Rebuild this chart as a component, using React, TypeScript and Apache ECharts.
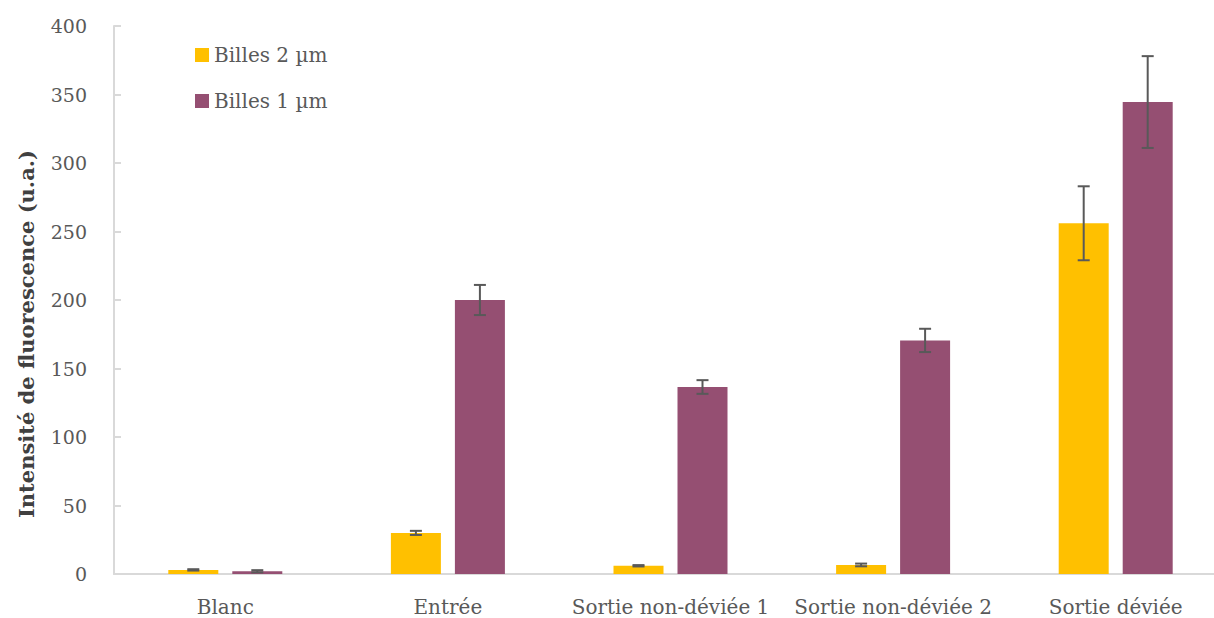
import React, { useEffect, useRef } from "react";
import * as echarts from "echarts";

const categories = ["Blanc", "Entrée", "Sortie non-déviée 1", "Sortie non-déviée 2", "Sortie déviée"];
const seriesNames = ["Billes 2 µm", "Billes 1 µm"];
const values2um = [3, 30, 6, 6.6, 256];
const errors2um = [0.5, 1.5, 0.5, 1, 27];
const values1um = [2, 200, 136.5, 170.5, 344.5];
const errors1um = [0.8, 11, 5, 8.5, 33.5];
const colors = ["#FFC000", "#954F72"];
const yTicks = { min: 0, max: 400, interval: 50 };
const yTitle = "Intensité de fluorescence (u.a.)";

function errorSeries(values: number[], errors: number[], idx: number) {
  const data = values.map((v, i) => [i, v - errors[i], v + errors[i]]);
  return {
    type: "custom",
    name: seriesNames[idx] + " err",
    z: 10,
    renderItem: (params: any, api: any) => {
      const xi = api.value(0);
      const lo = api.coord([xi, api.value(1)]);
      const hi = api.coord([xi, api.value(2)]);
      const barW = 50;
      const gap = 14;
      const offset = idx === 0 ? -(barW + gap) / 2 : (barW + gap) / 2;
      const x = lo[0] + offset;
      const cap = 6;
      const style = { stroke: "#595959", lineWidth: 2 };
      return {
        type: "group",
        children: [
          { type: "line", shape: { x1: x, y1: lo[1], x2: x, y2: hi[1] }, style },
          { type: "line", shape: { x1: x - cap, y1: lo[1], x2: x + cap, y2: lo[1] }, style },
          { type: "line", shape: { x1: x - cap, y1: hi[1], x2: x + cap, y2: hi[1] }, style },
        ],
      };
    },
    data,
    silent: true,
  };
}

export default function App() {
  const ref = useRef<HTMLDivElement>(null);
  useEffect(() => {
    const chart = echarts.init(ref.current!, undefined, { renderer: "svg" });
    const font = "'DejaVu Serif', serif";
    chart.setOption({
      animation: false,
      textStyle: { fontFamily: font },
      legend: {
        data: seriesNames,
        orient: "vertical",
        left: 190,
        top: 40,
        itemWidth: 14,
        itemHeight: 14,
        itemGap: 26,
        icon: "rect",
        textStyle: { fontSize: 20, color: "#595959", fontFamily: font },
      },
      graphic: [
        {
          type: "text",
          x: 26,
          y: 334,
          rotation: Math.PI / 2,
          style: {
            text: yTitle,
            align: "center",
            verticalAlign: "middle",
            fontSize: 21,
            fontWeight: "bold",
            fill: "#404040",
            fontFamily: font,
          },
        },
      ],
      grid: { left: 114, width: 1113, top: 26, bottom: 44, outerBoundsMode: "none" },
      xAxis: {
        type: "category",
        data: categories,
        axisLine: { lineStyle: { color: "#D9D9D9", width: 2 } },
        axisTick: { show: false },
        axisLabel: { fontSize: 20, color: "#595959", margin: 23, fontFamily: font, interval: 0 },
      },
      yAxis: {
        type: "value",
        min: yTicks.min,
        max: yTicks.max,
        interval: yTicks.interval,
        axisLine: { show: true, lineStyle: { color: "#D9D9D9", width: 2 } },
        axisTick: { show: true, inside: true, length: 7, lineStyle: { color: "#D9D9D9", width: 2 } },
        splitLine: { show: false },
        axisLabel: { fontSize: 19, color: "#595959", margin: 27, fontFamily: font },
      },
      series: [
        {
          type: "bar",
          name: seriesNames[0],
          data: values2um,
          barWidth: 50,
          barGap: "28%",
          itemStyle: { color: colors[0] },
        },
        {
          type: "bar",
          name: seriesNames[1],
          data: values1um,
          barWidth: 50,
          barGap: "28%",
          itemStyle: { color: colors[1] },
        },
        errorSeries(values2um, errors2um, 0),
        errorSeries(values1um, errors1um, 1),
      ],
    });
    return () => chart.dispose();
  }, []);
  return <div ref={ref} style={{ width: 1214, height: 618, position: "absolute", left: 0, top: 0 }} />;
}
